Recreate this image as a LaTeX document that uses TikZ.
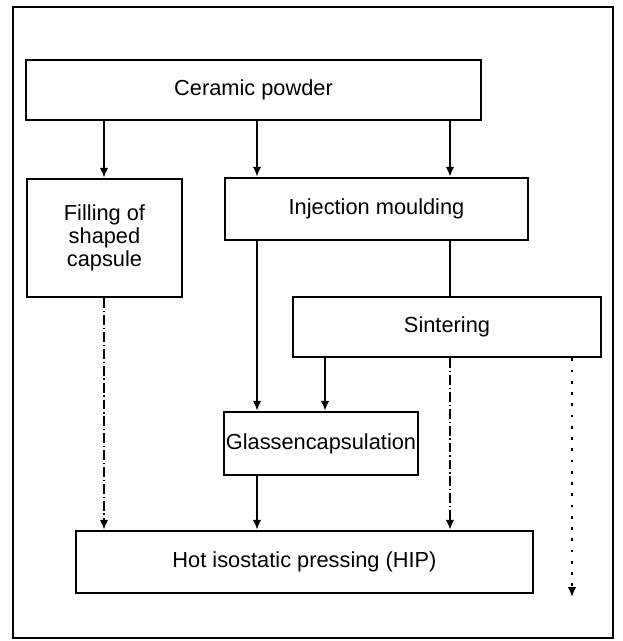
\documentclass[tikz,border=0pt]{standalone}
\usepackage{fontspec}
\setmainfont{Liberation Sans}
\usetikzlibrary{arrows.meta}

\tikzset{
    stage/.style={draw, line width=1.8pt, inner sep=0pt, align=center,
        font=\fontsize{15.5}{16.5}\selectfont},
    flow/.style={line width=1.3pt, -{Latex[length=7pt,width=6pt]}},
    faint/.style={flow, dash pattern=on 7pt off 2pt on 1pt off 2pt},
    sparse/.style={flow, dash pattern=on 2pt off 6pt},
}

\begin{document}
\begin{tikzpicture}[x=0.025cm, y=-0.025cm]
    \useasboundingbox (0,0) rectangle (623,641);
    \draw[line width=1.8pt] (13,7) rectangle (613,638);

    \node[stage, minimum width=11.375cm, minimum height=1.5cm] (powder) at (253.5,90) {Ceramic powder};
    \node[stage, minimum width=3.875cm, minimum height=2.95cm] (fill) at (104.5,238) {Filling of\\shaped\\capsule};
    \node[stage, minimum width=7.575cm, minimum height=1.55cm] (inj) at (376.5,209) {Injection moulding};
    \node[stage, minimum width=7.7cm, minimum height=1.5cm] (sint) at (447,327) {Sintering};
    \node[stage, minimum width=4.85cm, minimum height=1.575cm] (glass) at (321,443.5) {Glassencapsulation};
    \node[stage, minimum width=11.425cm, minimum height=1.55cm] (hip) at (304.5,562) {Hot isostatic pressing (HIP)};

    % columns of the connectors
    \coordinate (c1) at (104,0);
    \coordinate (c2) at (257,0);
    \coordinate (c3) at (325,0);
    \coordinate (c4) at (450,0);
    \coordinate (c5) at (572,0);
    \coordinate (out) at (572,597);

    \foreach \a/\b/\c in {powder/fill/c1, powder/inj/c2, powder/inj/c4,
                          inj/glass/c2, sint/glass/c3, glass/hip/c2}{
        \draw[flow] (\a.south -| \c) -- (\b.north -| \c);
    }
    \draw[line width=1.3pt] (inj.south -| c4) -- (sint.north -| c4);
    \draw[faint] (fill.south -| c1) -- (hip.north -| c1);
    \draw[faint] (sint.south -| c4) -- (hip.north -| c4);
    \draw[sparse] (sint.south -| c5) -- (out);
\end{tikzpicture}
\end{document}
